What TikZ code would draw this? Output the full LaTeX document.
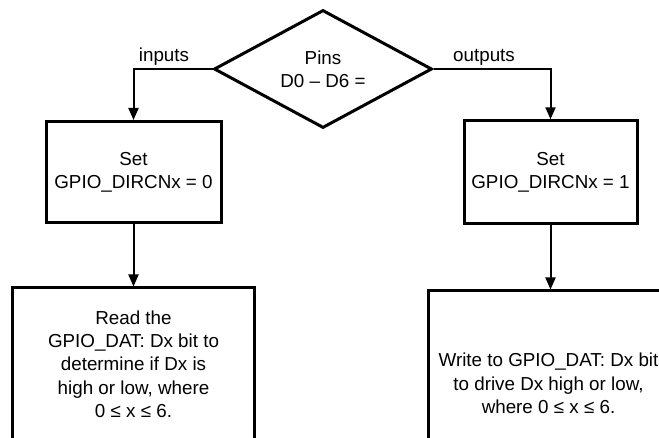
\documentclass[tikz,border=0pt]{standalone}
\usepackage{fontspec}
\setmainfont{Liberation Sans}
\usetikzlibrary{shapes.geometric,arrows.meta}
\begin{document}
\begin{tikzpicture}[x=1pt,y=-1pt,
  every node/.style={font=\fontsize{18.8}{23.3}\selectfont, align=center, inner sep=0pt},
  procbox/.style={draw, line width=3pt, rectangle},
  decbox/.style={draw, line width=3pt, shape=diamond, aspect=1.85, minimum width=218pt, minimum height=118pt},
  conn/.style={line width=2pt, -{Triangle[length=12pt,width=10pt]}},
  lbl/.style={}]
\useasboundingbox (0,0) rectangle (659,438);
\node[decbox] (dia) at (323,69) {Pins\\D0 – D6 =};
\node[procbox, minimum width=175pt, minimum height=101pt] (set0) at (133.5,172) {Set\\GPIO\_DIRCNx = 0};
\node[procbox, minimum width=173pt, minimum height=103pt] (set1) at (550.5,172.3) {Set\\GPIO\_DIRCNx = 1};
\node[procbox, minimum width=241.5pt, minimum height=152pt] (rd) at (133.5,364) {Read the\\GPIO\_DAT: Dx bit to\\determine if Dx is\\high or low, where\\0 ≤ x ≤ 6.};
\node[procbox, minimum width=241pt, minimum height=185pt] (wr) at (548.5,383.5) {Write to GPIO\_DAT: Dx bit\\to drive Dx high or low,\\where 0 ≤ x ≤ 6.};
\node[lbl] (in) at (164,57) {inputs};
\node[lbl] (out) at (484,57) {outputs};
\draw[conn] (dia.west) -| (set0.north);
\draw[conn] (dia.east) -| (set1.north);
\draw[conn] (set0.south) -- (set0.south |- rd.north);
\draw[conn] (set1.south) -- (set1.south |- wr.north);
\end{tikzpicture}
\end{document}
